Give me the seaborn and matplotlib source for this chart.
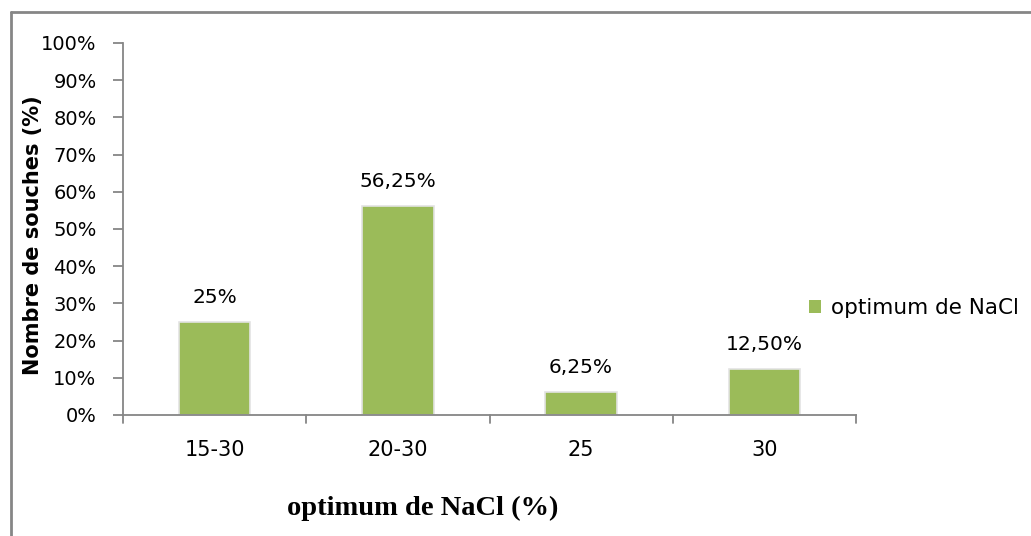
import pandas as pd
import numpy as np
import matplotlib
matplotlib.use('Agg')
import matplotlib.pyplot as plt
import seaborn as sns
from matplotlib.lines import Line2D
from matplotlib.patches import Patch

# données
categories = ['15-30', '20-30', '25', '30']
valeurs = [25, 56.25, 6.25, 12.5]
etiquettes = ['25%', '56,25%', '6,25%', '12,50%']
yticks = list(range(0, 101, 10))

sns.set_style('white')
plt.rcParams['font.family'] = ['DejaVu Sans']
plt.rcParams['text.color'] = 'black'
plt.rcParams['xtick.color'] = 'black'
plt.rcParams['ytick.color'] = 'black'
plt.rcParams['axes.labelcolor'] = 'black'

vert = '#9BBB59'
gris = '#868686'
fs = 14

fig = plt.figure(figsize=(10.31, 5.36), dpi=100)
ax = fig.add_axes([123 / 1031, 1 - 415 / 536, 733 / 1031, 372 / 536])

df = pd.DataFrame({'cat': categories, 'val': valeurs})
sns.barplot(data=df, x='cat', y='val', color=vert, saturation=1, width=0.39,
            edgecolor='#e3e3e3', linewidth=1.2, ax=ax)

for i, (v, lab) in enumerate(zip(valeurs, etiquettes)):
    ax.text(i, v + 6.5, lab, ha='center', va='center', fontsize=14.5)

ax.set_xlim(-0.5, len(categories) - 0.5)
ax.set_ylim(0, 100)
ax.set_yticks(yticks)
ax.set_yticklabels([f'{t}%' for t in yticks], fontsize=fs)
ax.set_xticks(range(len(categories)))
ax.set_xticklabels(categories, fontsize=15)
ax.tick_params(axis='x', length=0, pad=18)
ax.tick_params(axis='y', length=7, color=gris, labelcolor='black', width=1.3, pad=12, left=True)

# petits traits entre les catégories
for b in np.arange(-0.5, len(categories), 1):
    ax.plot([b, b], [0, -2.2], color=gris, lw=1.3, clip_on=False)

for s in ['top', 'right']:
    ax.spines[s].set_visible(False)
for s in ['left', 'bottom']:
    ax.spines[s].set_color(gris)
    ax.spines[s].set_linewidth(1.3)

ax.set_xlabel('')
ax.set_ylabel('Nombre de souches (%)', fontsize=15, fontweight='bold')
ax.yaxis.set_label_coords(-0.109, 0.484)

fig.text(423 / 1031, 1 - 508 / 536, 'optimum de NaCl (%)', ha='center', va='center',
         fontsize=20.5, fontweight='bold', family='Liberation Serif')

handle = Patch(facecolor=vert, edgecolor='none')
ax.legend([handle], ['optimum de NaCl'], loc='center left',
          bbox_to_anchor=(0.936, 0.2876), frameon=False, borderpad=0, borderaxespad=0,
          fontsize=15.5, handlelength=0.56, handleheight=0.56, handletextpad=0.45)

# cadre partiel (haut et gauche)
fig.add_artist(Line2D([11 / 1031, 11 / 1031], [0, 1 - 12 / 536], color=gris, lw=2))
fig.add_artist(Line2D([11 / 1031, 1], [1 - 12 / 536, 1 - 12 / 536], color=gris, lw=2))

fig.savefig('out.png', dpi=100)
